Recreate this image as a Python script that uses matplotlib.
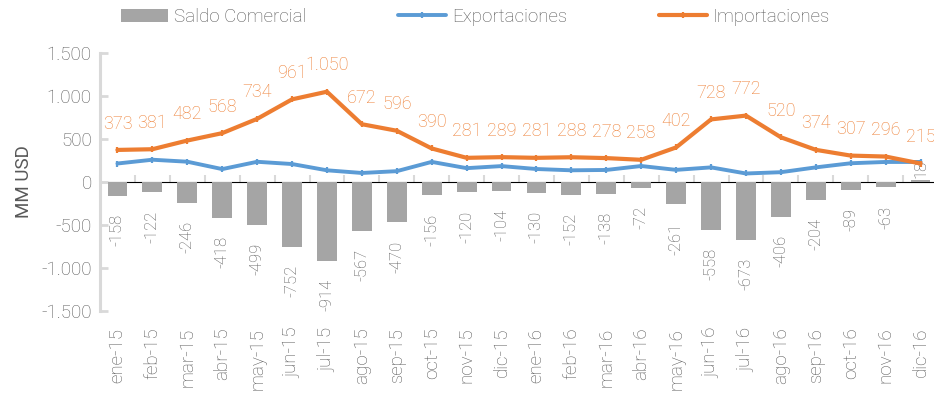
import matplotlib
matplotlib.use("Agg")
import matplotlib.pyplot as plt
from matplotlib.ticker import FuncFormatter
import numpy as np

months = ["ene-15", "feb-15", "mar-15", "abr-15", "may-15", "jun-15", "jul-15", "ago-15",
          "sep-15", "oct-15", "nov-15", "dic-15", "ene-16", "feb-16", "mar-16", "abr-16",
          "may-16", "jun-16", "jul-16", "ago-16", "sep-16", "oct-16", "nov-16", "dic-16"]
saldo = [-158, -122, -246, -418, -499, -752, -914, -567, -470, -156, -120, -104,
         -130, -152, -138, -72, -261, -558, -673, -406, -204, -89, -63, 18]
importaciones = [373, 381, 482, 568, 734, 961, 1050, 672, 596, 390, 281, 289,
                 281, 288, 278, 258, 402, 728, 772, 520, 374, 307, 296, 215]
exportaciones = [215, 259, 236, 150, 235, 209, 136, 105, 126, 234, 161, 185,
                 151, 136, 140, 186, 141, 170, 99, 114, 170, 218, 233, 233]
yticks = [-1500, -1000, -500, 0, 500, 1000, 1500]

plt.rcParams['font.family'] = ['Roboto', 'DejaVu Sans']
plt.rcParams['font.weight'] = 'light'
TXT = '#595959'
GRAY = '#A5A5A5'
BLUE = '#5B9BD5'
ORANGE = '#ED7D31'
AX = '#D9D9D9'

fig = plt.figure(figsize=(9.34, 4.01), dpi=100)
ax = fig.add_axes([100/934, 1-311/401, 838/934, 258/401])

x = np.arange(len(months))
bars = ax.bar(x, saldo, width=0.57, color=GRAY, zorder=2, label='Saldo Comercial')
l1, = ax.plot(x, exportaciones, color=BLUE, lw=2.8, marker='|', ms=5, mew=1.6, zorder=3,
              label='Exportaciones', solid_capstyle='round')
l2, = ax.plot(x, importaciones, color=ORANGE, lw=3.0, marker='|', ms=5, mew=1.6, zorder=4,
              label='Importaciones', solid_capstyle='round')

ax.set_xlim(-0.5, len(months) - 0.5)
ax.set_ylim(-1500, 1500)
ax.set_yticks(yticks)
ax.yaxis.set_major_formatter(FuncFormatter(lambda v, p: f"{int(v):,}".replace(",", ".")))
ax.tick_params(axis='y', direction='in', length=6, width=2, color=AX, labelsize=13.5,
               labelcolor=TXT, pad=6)
ax.set_xticks(x)
ax.set_xticklabels(months, rotation=90, va='top', ha='center')
ax.tick_params(axis='x', length=0, labelsize=13.5, labelcolor=TXT, pad=12)
for s in ['top', 'right', 'bottom']:
    ax.spines[s].set_visible(False)
ax.spines['left'].set_color(AX)
ax.spines['left'].set_linewidth(2.2)
ax.set_ylabel('MM USD', fontsize=13.5, color=TXT, labelpad=6)

sec = ax.secondary_xaxis(0.5)
sec.set_xticks(np.arange(len(months) + 1) - 0.5)
sec.set_xticklabels([])
sec.tick_params(axis='x', direction='out', length=5, width=1.5, color=AX)
sec.spines['bottom'].set_color(AX)
sec.spines['bottom'].set_linewidth(2.2)

for xi, v in zip(x, importaciones):
    ax.annotate(f"{v:,}".replace(",", "."), (xi, v), xytext=(0, 19), textcoords='offset points',
                ha='center', va='center', fontsize=13, color=ORANGE, zorder=5)
for xi, v in zip(x, saldo):
    if v < 0:
        ax.annotate(f"{v}", (xi, v), xytext=(0, -13), textcoords='offset points',
                    ha='center', va='top', rotation=90, fontsize=12, color=TXT)
    else:
        ax.annotate(f"{v}", (xi, v), xytext=(0, 2), textcoords='offset points',
                    ha='center', va='bottom', rotation=90, fontsize=12, color=TXT)

fig.legend(handles=[bars, l1, l2], loc='center', bbox_to_anchor=(0.5086, 0.958), ncol=3,
           frameon=False, fontsize=13.5, labelcolor=TXT, handlelength=2.55, handletextpad=0.3,
           columnspacing=4.9)

fig.savefig('out.png', dpi=100)
